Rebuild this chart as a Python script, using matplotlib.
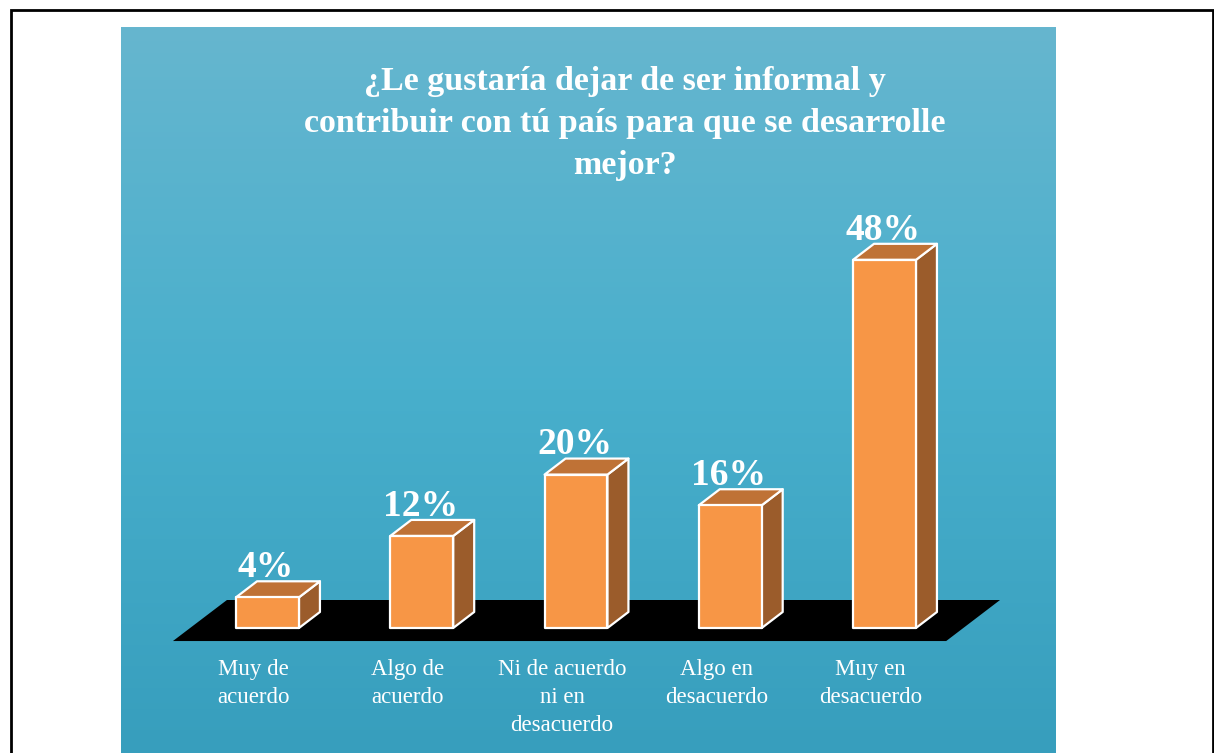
import numpy as np
import matplotlib
matplotlib.use("Agg")
import matplotlib.pyplot as plt
from matplotlib.patches import Polygon, Rectangle

# data
categories = ["Muy de\nacuerdo", "Algo de\nacuerdo", "Ni de acuerdo\nni en\ndesacuerdo",
              "Algo en\ndesacuerdo", "Muy en\ndesacuerdo"]
values = [4, 12, 20, 16, 48]
labels = ["4%", "12%", "20%", "16%", "48%"]
title = "¿Le gustaría dejar de ser informal y\ncontribuir con tú país para que se desarrolle\nmejor?"

serif = ["Liberation Serif", "DejaVu Serif"]

W, H = 1214, 753
fig = plt.figure(figsize=(W / 100, H / 100), dpi=100)
fig.patch.set_facecolor("white")

# gradient blue panel
bg = fig.add_axes([121 / W, 0, (1056 - 121) / W, 1 - 27 / H])
top_c = np.array([0x66, 0xB6, 0xCF]) / 255
mid_c = np.array([0x48, 0xAF, 0xCC]) / 255
bot_c = np.array([0x37, 0x9E, 0xBD]) / 255
t = np.linspace(0, 1, 256)[:, None]
grad = np.where(t < 0.5, top_c + (mid_c - top_c) * (t / 0.5),
                mid_c + (bot_c - mid_c) * ((t - 0.5) / 0.5))
bg.imshow(grad[:, None, :].repeat(2, axis=1), aspect="auto", extent=[0, 1, 0, 1])
bg.set_axis_off()

# outer frame
fig.patches.append(Rectangle((10.5 / W, -0.05), 1202.5 / W, 1.05 - 10.5 / H,
                             transform=fig.transFigure, fill=False,
                             edgecolor="black", linewidth=2, zorder=10))

# chart axes: y=0 at pixel 628, 1% = 7.67 px; category spacing 154.25 px
unit = 7.67 / H
ylo, yhi = -6, 60
x_left = (267.5 - 0.5 * 154.25) / W
ax = fig.add_axes([x_left, (H - 628) / H + ylo * unit, 5 * 154.25 / W, (yhi - ylo) * unit])
ax.set_xlim(-0.5, 4.5)
ax.set_ylim(ylo, yhi)
ax.set_axis_off()
ax.patch.set_alpha(0)

# floor
floor = [(-0.613, -1.7), (4.40, -1.7), (4.749, 3.65), (-0.263, 3.65)]
ax.add_patch(Polygon(floor, closed=True, facecolor="black", edgecolor="none",
                     zorder=1, clip_on=False))

w = 0.408
dx, dy = 0.136, 2.09
front_c = "#F79646"
top_col = "#BF7236"
side_col = "#9B5C2B"
for i, v in enumerate(values):
    x0, x1 = i - w / 2, i + w / 2
    side = [(x1, 0), (x1 + dx, dy), (x1 + dx, v + dy), (x1, v)]
    top = [(x0, v), (x1, v), (x1 + dx, v + dy), (x0 + dx, v + dy)]
    front = [(x0, 0), (x1, 0), (x1, v), (x0, v)]
    for pts, c in ((side, side_col), (top, top_col), (front, front_c)):
        ax.add_patch(Polygon(pts, closed=True, facecolor=c, edgecolor="white",
                             linewidth=1.6, joinstyle="round", zorder=3, clip_on=False))
    ax.text(i - 0.01, v + dy + 0.55, labels[i], ha="center", va="baseline", color="white",
            fontsize=27, fontweight="bold", family=serif, zorder=5)
    ax.text(i - 0.09, -4.05, categories[i], ha="center", va="top", color="white",
            fontsize=16.5, family=serif, linespacing=1.45, zorder=5)

fig.text(625 / W, 1 - 66 / H, title, ha="center", va="top", color="white",
         fontsize=24.5, fontweight="bold", family=serif, linespacing=1.45)

fig.savefig("out.png", dpi=100)
